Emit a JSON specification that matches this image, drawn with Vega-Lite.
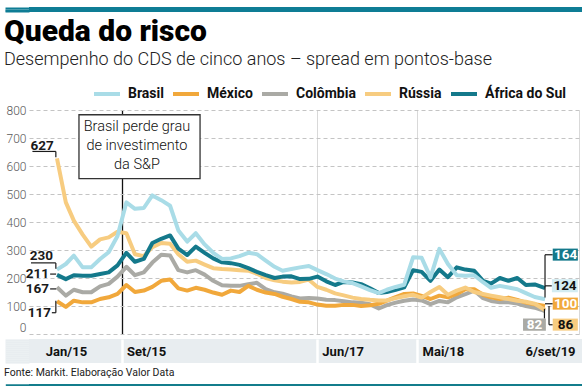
{
"$schema": "https://vega.github.io/schema/vega-lite/v6.json",
"background": "white",
"padding": {"left": 3, "top": 6, "right": 4, "bottom": 2},
"columns": 1,
"spacing": 4,
"resolve": {"legend": {"color": "independent"}},
"config": {"view": {"stroke": null}, "font": "Roboto", "axis": {"labelFont": "Roboto"}, "legend": {"labelFont": "Roboto"}},
"datasets": {"cds": [
{"data":"2015-01-01","pais":"Colômbia","valor":167},{"data":"2015-02-01","pais":"Colômbia","valor":137},{"data":"2015-03-01","pais":"Colômbia","valor":158},{"data":"2015-04-01","pais":"Colômbia","valor":149},{"data":"2015-05-01","pais":"Colômbia","valor":149},{"data":"2015-06-01","pais":"Colômbia","valor":170},{"data":"2015-07-01","pais":"Colômbia","valor":179},{"data":"2015-08-01","pais":"Colômbia","valor":205},{"data":"2015-09-01","pais":"Colômbia","valor":240},{"data":"2015-10-01","pais":"Colômbia","valor":210},{"data":"2015-11-01","pais":"Colômbia","valor":220},{"data":"2015-12-01","pais":"Colômbia","valor":255},
{"data":"2016-01-01","pais":"Colômbia","valor":283},{"data":"2016-02-01","pais":"Colômbia","valor":280},{"data":"2016-03-01","pais":"Colômbia","valor":228},{"data":"2016-04-01","pais":"Colômbia","valor":220},{"data":"2016-05-01","pais":"Colômbia","valor":228},{"data":"2016-06-01","pais":"Colômbia","valor":212},{"data":"2016-07-01","pais":"Colômbia","valor":190},{"data":"2016-08-01","pais":"Colômbia","valor":174},{"data":"2016-09-01","pais":"Colômbia","valor":172},{"data":"2016-10-01","pais":"Colômbia","valor":172},{"data":"2016-11-01","pais":"Colômbia","valor":178},{"data":"2016-12-01","pais":"Colômbia","valor":183},
{"data":"2017-01-01","pais":"Colômbia","valor":160},{"data":"2017-02-01","pais":"Colômbia","valor":149},{"data":"2017-03-01","pais":"Colômbia","valor":144},{"data":"2017-04-01","pais":"Colômbia","valor":134},{"data":"2017-05-01","pais":"Colômbia","valor":127},{"data":"2017-06-01","pais":"Colômbia","valor":129},{"data":"2017-07-01","pais":"Colômbia","valor":127},{"data":"2017-08-01","pais":"Colômbia","valor":122},{"data":"2017-09-01","pais":"Colômbia","valor":121},{"data":"2017-10-01","pais":"Colômbia","valor":117},{"data":"2017-11-01","pais":"Colômbia","valor":113},{"data":"2017-12-01","pais":"Colômbia","valor":112},
{"data":"2018-01-01","pais":"Colômbia","valor":106},{"data":"2018-02-01","pais":"Colômbia","valor":91},{"data":"2018-03-01","pais":"Colômbia","valor":103},{"data":"2018-04-01","pais":"Colômbia","valor":112},{"data":"2018-05-01","pais":"Colômbia","valor":119},{"data":"2018-06-01","pais":"Colômbia","valor":123},{"data":"2018-07-01","pais":"Colômbia","valor":120},{"data":"2018-08-01","pais":"Colômbia","valor":107},{"data":"2018-09-01","pais":"Colômbia","valor":118},{"data":"2018-10-01","pais":"Colômbia","valor":113},{"data":"2018-11-01","pais":"Colômbia","valor":131},{"data":"2018-12-01","pais":"Colômbia","valor":142},
{"data":"2019-01-01","pais":"Colômbia","valor":155},{"data":"2019-02-01","pais":"Colômbia","valor":128},{"data":"2019-03-01","pais":"Colômbia","valor":118},{"data":"2019-04-01","pais":"Colômbia","valor":113},{"data":"2019-05-01","pais":"Colômbia","valor":113},{"data":"2019-06-01","pais":"Colômbia","valor":109},{"data":"2019-07-01","pais":"Colômbia","valor":100},{"data":"2019-08-01","pais":"Colômbia","valor":94},{"data":"2019-09-06","pais":"Colômbia","valor":82},
{"data":"2015-01-01","pais":"México","valor":117},{"data":"2015-02-01","pais":"México","valor":97},{"data":"2015-03-01","pais":"México","valor":119},{"data":"2015-04-01","pais":"México","valor":113},{"data":"2015-05-01","pais":"México","valor":113},{"data":"2015-06-01","pais":"México","valor":125},{"data":"2015-07-01","pais":"México","valor":131},{"data":"2015-08-01","pais":"México","valor":143},{"data":"2015-09-01","pais":"México","valor":175},{"data":"2015-10-01","pais":"México","valor":150},{"data":"2015-11-01","pais":"México","valor":155},{"data":"2015-12-01","pais":"México","valor":168},
{"data":"2016-01-01","pais":"México","valor":190},{"data":"2016-02-01","pais":"México","valor":195},{"data":"2016-03-01","pais":"México","valor":163},{"data":"2016-04-01","pais":"México","valor":155},{"data":"2016-05-01","pais":"México","valor":165},{"data":"2016-06-01","pais":"México","valor":158},{"data":"2016-07-01","pais":"México","valor":148},{"data":"2016-08-01","pais":"México","valor":140},{"data":"2016-09-01","pais":"México","valor":155},{"data":"2016-10-01","pais":"México","valor":150},{"data":"2016-11-01","pais":"México","valor":172},{"data":"2016-12-01","pais":"México","valor":158},
{"data":"2017-01-01","pais":"México","valor":148},{"data":"2017-02-01","pais":"México","valor":143},{"data":"2017-03-01","pais":"México","valor":133},{"data":"2017-04-01","pais":"México","valor":125},{"data":"2017-05-01","pais":"México","valor":115},{"data":"2017-06-01","pais":"México","valor":113},{"data":"2017-07-01","pais":"México","valor":105},{"data":"2017-08-01","pais":"México","valor":101},{"data":"2017-09-01","pais":"México","valor":101},{"data":"2017-10-01","pais":"México","valor":104},{"data":"2017-11-01","pais":"México","valor":104},{"data":"2017-12-01","pais":"México","valor":100},
{"data":"2018-01-01","pais":"México","valor":103},{"data":"2018-02-01","pais":"México","valor":108},{"data":"2018-03-01","pais":"México","valor":119},{"data":"2018-04-01","pais":"México","valor":132},{"data":"2018-05-01","pais":"México","valor":143},{"data":"2018-06-01","pais":"México","valor":145},{"data":"2018-07-01","pais":"México","valor":136},{"data":"2018-08-01","pais":"México","valor":125},{"data":"2018-09-01","pais":"México","valor":137},{"data":"2018-10-01","pais":"México","valor":131},{"data":"2018-11-01","pais":"México","valor":143},{"data":"2018-12-01","pais":"México","valor":160},
{"data":"2019-01-01","pais":"México","valor":160},{"data":"2019-02-01","pais":"México","valor":140},{"data":"2019-03-01","pais":"México","valor":131},{"data":"2019-04-01","pais":"México","valor":125},{"data":"2019-05-01","pais":"México","valor":130},{"data":"2019-06-01","pais":"México","valor":122},{"data":"2019-07-01","pais":"México","valor":112},{"data":"2019-08-01","pais":"México","valor":106},{"data":"2019-09-06","pais":"México","valor":100},
{"data":"2015-01-01","pais":"Rússia","valor":627},{"data":"2015-02-01","pais":"Rússia","valor":470},{"data":"2015-03-01","pais":"Rússia","valor":405},{"data":"2015-04-01","pais":"Rússia","valor":355},{"data":"2015-05-01","pais":"Rússia","valor":312},{"data":"2015-06-01","pais":"Rússia","valor":338},{"data":"2015-07-01","pais":"Rússia","valor":345},{"data":"2015-08-01","pais":"Rússia","valor":365},{"data":"2015-09-01","pais":"Rússia","valor":360},{"data":"2015-10-01","pais":"Rússia","valor":285},{"data":"2015-11-01","pais":"Rússia","valor":278},{"data":"2015-12-01","pais":"Rússia","valor":310},
{"data":"2016-01-01","pais":"Rússia","valor":325},{"data":"2016-02-01","pais":"Rússia","valor":322},{"data":"2016-03-01","pais":"Rússia","valor":285},{"data":"2016-04-01","pais":"Rússia","valor":258},{"data":"2016-05-01","pais":"Rússia","valor":262},{"data":"2016-06-01","pais":"Rússia","valor":248},{"data":"2016-07-01","pais":"Rússia","valor":235},{"data":"2016-08-01","pais":"Rússia","valor":232},{"data":"2016-09-01","pais":"Rússia","valor":230},{"data":"2016-10-01","pais":"Rússia","valor":228},{"data":"2016-11-01","pais":"Rússia","valor":226},{"data":"2016-12-01","pais":"Rússia","valor":215},
{"data":"2017-01-01","pais":"Rússia","valor":200},{"data":"2017-02-01","pais":"Rússia","valor":192},{"data":"2017-03-01","pais":"Rússia","valor":187},{"data":"2017-04-01","pais":"Rússia","valor":184},{"data":"2017-05-01","pais":"Rússia","valor":186},{"data":"2017-06-01","pais":"Rússia","valor":194},{"data":"2017-07-01","pais":"Rússia","valor":168},{"data":"2017-08-01","pais":"Rússia","valor":158},{"data":"2017-09-01","pais":"Rússia","valor":145},{"data":"2017-10-01","pais":"Rússia","valor":138},{"data":"2017-11-01","pais":"Rússia","valor":130},{"data":"2017-12-01","pais":"Rússia","valor":125},
{"data":"2018-01-01","pais":"Rússia","valor":122},{"data":"2018-02-01","pais":"Rússia","valor":120},{"data":"2018-03-01","pais":"Rússia","valor":120},{"data":"2018-04-01","pais":"Rússia","valor":128},{"data":"2018-05-01","pais":"Rússia","valor":135},{"data":"2018-06-01","pais":"Rússia","valor":140},{"data":"2018-07-01","pais":"Rússia","valor":130},{"data":"2018-08-01","pais":"Rússia","valor":150},{"data":"2018-09-01","pais":"Rússia","valor":168},{"data":"2018-10-01","pais":"Rússia","valor":140},{"data":"2018-11-01","pais":"Rússia","valor":155},{"data":"2018-12-01","pais":"Rússia","valor":166},
{"data":"2019-01-01","pais":"Rússia","valor":150},{"data":"2019-02-01","pais":"Rússia","valor":143},{"data":"2019-03-01","pais":"Rússia","valor":137},{"data":"2019-04-01","pais":"Rússia","valor":131},{"data":"2019-05-01","pais":"Rússia","valor":125},{"data":"2019-06-01","pais":"Rússia","valor":119},{"data":"2019-07-01","pais":"Rússia","valor":115},{"data":"2019-08-01","pais":"Rússia","valor":108},{"data":"2019-09-06","pais":"Rússia","valor":86},
{"data":"2015-01-01","pais":"África do Sul","valor":211},{"data":"2015-02-01","pais":"África do Sul","valor":196},{"data":"2015-03-01","pais":"África do Sul","valor":210},{"data":"2015-04-01","pais":"África do Sul","valor":208},{"data":"2015-05-01","pais":"África do Sul","valor":208},{"data":"2015-06-01","pais":"África do Sul","valor":214},{"data":"2015-07-01","pais":"África do Sul","valor":220},{"data":"2015-08-01","pais":"África do Sul","valor":245},{"data":"2015-09-01","pais":"África do Sul","valor":290},{"data":"2015-10-01","pais":"África do Sul","valor":258},{"data":"2015-11-01","pais":"África do Sul","valor":268},{"data":"2015-12-01","pais":"África do Sul","valor":325},
{"data":"2016-01-01","pais":"África do Sul","valor":340},{"data":"2016-02-01","pais":"África do Sul","valor":352},{"data":"2016-03-01","pais":"África do Sul","valor":305},{"data":"2016-04-01","pais":"África do Sul","valor":282},{"data":"2016-05-01","pais":"África do Sul","valor":312},{"data":"2016-06-01","pais":"África do Sul","valor":290},{"data":"2016-07-01","pais":"África do Sul","valor":270},{"data":"2016-08-01","pais":"África do Sul","valor":256},{"data":"2016-09-01","pais":"África do Sul","valor":253},{"data":"2016-10-01","pais":"África do Sul","valor":247},{"data":"2016-11-01","pais":"África do Sul","valor":235},{"data":"2016-12-01","pais":"África do Sul","valor":222},
{"data":"2017-01-01","pais":"África do Sul","valor":210},{"data":"2017-02-01","pais":"África do Sul","valor":200},{"data":"2017-03-01","pais":"África do Sul","valor":205},{"data":"2017-04-01","pais":"África do Sul","valor":206},{"data":"2017-05-01","pais":"África do Sul","valor":196},{"data":"2017-06-01","pais":"África do Sul","valor":197},{"data":"2017-07-01","pais":"África do Sul","valor":205},{"data":"2017-08-01","pais":"África do Sul","valor":188},{"data":"2017-09-01","pais":"África do Sul","valor":175},{"data":"2017-10-01","pais":"África do Sul","valor":186},{"data":"2017-11-01","pais":"África do Sul","valor":184},{"data":"2017-12-01","pais":"África do Sul","valor":178},
{"data":"2018-01-01","pais":"África do Sul","valor":163},{"data":"2018-02-01","pais":"África do Sul","valor":146},{"data":"2018-03-01","pais":"África do Sul","valor":150},{"data":"2018-04-01","pais":"África do Sul","valor":158},{"data":"2018-05-01","pais":"África do Sul","valor":167},{"data":"2018-06-01","pais":"África do Sul","valor":228},{"data":"2018-07-01","pais":"África do Sul","valor":222},{"data":"2018-08-01","pais":"África do Sul","valor":190},{"data":"2018-09-01","pais":"África do Sul","valor":230},{"data":"2018-10-01","pais":"África do Sul","valor":203},{"data":"2018-11-01","pais":"África do Sul","valor":238},{"data":"2018-12-01","pais":"África do Sul","valor":230},
{"data":"2019-01-01","pais":"África do Sul","valor":226},{"data":"2019-02-01","pais":"África do Sul","valor":190},{"data":"2019-03-01","pais":"África do Sul","valor":180},{"data":"2019-04-01","pais":"África do Sul","valor":200},{"data":"2019-05-01","pais":"África do Sul","valor":190},{"data":"2019-06-01","pais":"África do Sul","valor":200},{"data":"2019-07-01","pais":"África do Sul","valor":175},{"data":"2019-08-01","pais":"África do Sul","valor":177},{"data":"2019-09-06","pais":"África do Sul","valor":164},
{"data":"2015-01-01","pais":"Brasil","valor":230},{"data":"2015-02-01","pais":"Brasil","valor":250},{"data":"2015-03-01","pais":"Brasil","valor":280},{"data":"2015-04-01","pais":"Brasil","valor":238},{"data":"2015-05-01","pais":"Brasil","valor":238},{"data":"2015-06-01","pais":"Brasil","valor":268},{"data":"2015-07-01","pais":"Brasil","valor":292},{"data":"2015-08-01","pais":"Brasil","valor":350},{"data":"2015-09-01","pais":"Brasil","valor":470},{"data":"2015-10-01","pais":"Brasil","valor":447},{"data":"2015-11-01","pais":"Brasil","valor":450},{"data":"2015-12-01","pais":"Brasil","valor":495},
{"data":"2016-01-01","pais":"Brasil","valor":478},{"data":"2016-02-01","pais":"Brasil","valor":458},{"data":"2016-03-01","pais":"Brasil","valor":370},{"data":"2016-04-01","pais":"Brasil","valor":330},{"data":"2016-05-01","pais":"Brasil","valor":360},{"data":"2016-06-01","pais":"Brasil","valor":320},{"data":"2016-07-01","pais":"Brasil","valor":290},{"data":"2016-08-01","pais":"Brasil","valor":268},{"data":"2016-09-01","pais":"Brasil","valor":270},{"data":"2016-10-01","pais":"Brasil","valor":278},{"data":"2016-11-01","pais":"Brasil","valor":290},{"data":"2016-12-01","pais":"Brasil","valor":285},
{"data":"2017-01-01","pais":"Brasil","valor":262},{"data":"2017-02-01","pais":"Brasil","valor":240},{"data":"2017-03-01","pais":"Brasil","valor":226},{"data":"2017-04-01","pais":"Brasil","valor":232},{"data":"2017-05-01","pais":"Brasil","valor":238},{"data":"2017-06-01","pais":"Brasil","valor":243},{"data":"2017-07-01","pais":"Brasil","valor":228},{"data":"2017-08-01","pais":"Brasil","valor":214},{"data":"2017-09-01","pais":"Brasil","valor":198},{"data":"2017-10-01","pais":"Brasil","valor":188},{"data":"2017-11-01","pais":"Brasil","valor":182},{"data":"2017-12-01","pais":"Brasil","valor":170},
{"data":"2018-01-01","pais":"Brasil","valor":157},{"data":"2018-02-01","pais":"Brasil","valor":146},{"data":"2018-03-01","pais":"Brasil","valor":158},{"data":"2018-04-01","pais":"Brasil","valor":168},{"data":"2018-05-01","pais":"Brasil","valor":176},{"data":"2018-06-01","pais":"Brasil","valor":274},{"data":"2018-07-01","pais":"Brasil","valor":272},{"data":"2018-08-01","pais":"Brasil","valor":202},{"data":"2018-09-01","pais":"Brasil","valor":304},{"data":"2018-10-01","pais":"Brasil","valor":250},{"data":"2018-11-01","pais":"Brasil","valor":210},{"data":"2018-12-01","pais":"Brasil","valor":208},
{"data":"2019-01-01","pais":"Brasil","valor":210},{"data":"2019-02-01","pais":"Brasil","valor":185},{"data":"2019-03-01","pais":"Brasil","valor":165},{"data":"2019-04-01","pais":"Brasil","valor":172},{"data":"2019-05-01","pais":"Brasil","valor":166},{"data":"2019-06-01","pais":"Brasil","valor":160},{"data":"2019-07-01","pais":"Brasil","valor":146},{"data":"2019-08-01","pais":"Brasil","valor":132},{"data":"2019-09-06","pais":"Brasil","valor":124}
]},
"concat": [
{
 "width": 553, "height": 5,
 "view": {"fill": "#0e7d95", "stroke": null},
 "data": {"values": [{}]},
 "mark": {"type": "point", "opacity": 0},
 "encoding": {"y": {"datum": 1, "type": "quantitative", "scale": {"domain": [0, 2]},
   "axis": {"values": [0.4, 1, 1.6], "labels": false, "domain": false, "grid": false, "title": null, "ticks": true, "tickSize": 24, "tickWidth": 2, "tickColor": "#0e7d95", "minExtent": 25, "maxExtent": 25}}}
},
{
 "width": 550, "height": 224,
 "title": {"text": "Queda do risco", "subtitle": "Desempenho do CDS de cinco anos – spread em pontos-base", "anchor": "start", "frame": "group", "dx": -25, "font": "Roboto", "fontSize": 30, "fontWeight": 900, "color": "#000000", "subtitleFont": "Roboto", "subtitleFontSize": 18, "subtitleFontWeight": 300, "subtitleColor": "#222222", "subtitlePadding": 4, "offset": 10},
 "data": {"name": "cds"},
 "resolve": {"axis": {"x": "independent", "y": "independent"}},
 "layer": [
  {
   "mark": {"type": "line", "strokeWidth": 4, "strokeJoin": "round"},
   "encoding": {
    "x": {"field": "data", "type": "temporal",
      "scale": {"type": "utc", "domain": [{"year": 2014, "month": 9, "date": 25, "utc": true}, {"year": 2020, "month": 1, "date": 3, "utc": true}]},
      "axis": {"title": null, "orient": "bottom", "labels": false, "ticks": false, "domain": false, "minExtent": 0, "maxExtent": 0,
        "values": [{"year": 2015, "month": 8, "date": 15, "utc": true}, {"year": 2017, "month": 6, "date": 29, "utc": true}, {"year": 2018, "month": 6, "date": 15, "utc": true}, {"year": 2020, "month": 1, "date": 3, "utc": true}],
        "grid": true,
        "gridColor": {"condition": {"test": "utcyear(datum.value) == 2015", "value": "#111111"}, "value": "#d9d9d9"},
        "gridWidth": {"condition": {"test": "utcyear(datum.value) == 2015", "value": 1.3}, "value": 1}}},
    "y": {"field": "valor", "type": "quantitative",
      "scale": {"domain": [0, 800]},
      "axis": {"title": null, "orient": "left", "values": [0, 100, 200, 300, 400, 500, 600, 700, 800], "labelOverlap": false, "domain": false, "ticks": false, "labelPadding": 3, "labelFontSize": 12, "labelFontWeight": 300, "labelColor": "#5a5a5a", "minExtent": 25, "maxExtent": 25, "grid": true, "gridDash": [4, 3], "gridColor": "#c4c4c4", "gridWidth": 1,
        "labelBaseline": {"condition": {"test": "datum.value == 0", "value": "bottom"}, "value": "middle"}}},
    "color": {"field": "pais", "type": "nominal",
      "scale": {"domain": ["Brasil", "México", "Colômbia", "Rússia", "África do Sul"], "range": ["#a9dce7", "#f1a83b", "#aaaaa5", "#f7cc80", "#14798b"]},
      "legend": {"title": null, "orient": "none", "legendX": 63, "legendY": -31, "direction": "horizontal", "gridAlign": "none", "symbolType": "stroke", "symbolStrokeWidth": 4, "symbolSize": 676, "labelFontSize": 14, "labelFontWeight": "bold", "labelColor": "#111111", "labelOffset": 6, "columnPadding": 1, "padding": 0}}
   }
  },
  {
   "data": {"values": [{}]},
   "mark": {"type": "rect", "fill": "white", "stroke": "#333333", "strokeWidth": 1.3},
   "encoding": {"x": {"datum": {"year": 2015, "month": 3, "date": 19, "utc": true}, "type": "temporal", "axis": null}, "x2": {"datum": {"year": 2016, "month": 5, "date": 16, "utc": true}}, "y": {"datum": 783, "type": "quantitative", "axis": null}, "y2": {"datum": 555}}
  },
  {
   "data": {"values": [{"nota": ["Brasil perde grau", "de investimento", "da S&P"]}]},
   "mark": {"type": "text", "fontSize": 14.5, "fontWeight": 300, "color": "#111111", "align": "center", "baseline": "middle", "lineHeight": 19},
   "encoding": {"x": {"datum": {"year": 2015, "month": 10, "date": 8, "utc": true}, "type": "temporal", "axis": null}, "y": {"datum": 738, "type": "quantitative", "axis": null}, "text": {"field": "nota", "type": "nominal"}}
  },
  {
   "data": {"values": [{"pais": "Rússia", "valor": 627}]},
   "mark": {"type": "text", "align": "right", "baseline": "middle", "fontSize": 13.5, "fontWeight": "bold", "color": "#1a1a1a"},
   "encoding": {"x": {"datum": {"year": 2014, "month": 12, "date": 21, "utc": true}, "type": "temporal", "axis": null}, "y": {"datum": 671, "type": "quantitative", "axis": null}, "text": {"field": "valor", "type": "quantitative"}}
  },
  {
   "data": {"values": [{"pais": "Brasil", "valor": 230}]},
   "mark": {"type": "text", "align": "right", "baseline": "middle", "fontSize": 13.5, "fontWeight": "bold", "color": "#1a1a1a"},
   "encoding": {"x": {"datum": {"year": 2014, "month": 12, "date": 18, "utc": true}, "type": "temporal", "axis": null}, "y": {"datum": 280, "type": "quantitative", "axis": null}, "text": {"field": "valor", "type": "quantitative"}}
  },
  {
   "data": {"values": [{"pais": "África do Sul", "valor": 211}]},
   "mark": {"type": "text", "align": "right", "baseline": "middle", "fontSize": 13.5, "fontWeight": "bold", "color": "#1a1a1a"},
   "encoding": {"x": {"datum": {"year": 2014, "month": 12, "date": 4, "utc": true}, "type": "temporal", "axis": null}, "y": {"datum": 214, "type": "quantitative", "axis": null}, "text": {"field": "valor", "type": "quantitative"}}
  },
  {
   "data": {"values": [{"pais": "Colômbia", "valor": 167}]},
   "mark": {"type": "text", "align": "right", "baseline": "middle", "fontSize": 13.5, "fontWeight": "bold", "color": "#1a1a1a"},
   "encoding": {"x": {"datum": {"year": 2014, "month": 12, "date": 4, "utc": true}, "type": "temporal", "axis": null}, "y": {"datum": 161, "type": "quantitative", "axis": null}, "text": {"field": "valor", "type": "quantitative"}}
  },
  {
   "data": {"values": [{"pais": "México", "valor": 117}]},
   "mark": {"type": "text", "align": "right", "baseline": "middle", "fontSize": 13.5, "fontWeight": "bold", "color": "#1a1a1a"},
   "encoding": {"x": {"datum": {"year": 2014, "month": 12, "date": 11, "utc": true}, "type": "temporal", "axis": null}, "y": {"datum": 76, "type": "quantitative", "axis": null}, "text": {"field": "valor", "type": "quantitative"}}
  },
  {
   "data": {"values": [{}]},
   "mark": {"type": "rule", "color": "#1a1a1a", "strokeWidth": 1.2},
   "encoding": {"x": {"datum": {"year": 2014, "month": 10, "date": 7, "utc": true}, "type": "temporal", "axis": null}, "x2": {"datum": {"year": 2014, "month": 12, "date": 28, "utc": true}}, "y": {"datum": 652, "type": "quantitative", "axis": null}}
  },
  {
   "data": {"values": [{}]},
   "mark": {"type": "rule", "color": "#1a1a1a", "strokeWidth": 1.2},
   "encoding": {"x": {"datum": {"year": 2014, "month": 12, "date": 28, "utc": true}, "type": "temporal", "axis": null}, "y": {"datum": 652, "type": "quantitative", "axis": null}, "y2": {"datum": 631}}
  },
  {
   "data": {"values": [{}]},
   "mark": {"type": "rule", "color": "#1a1a1a", "strokeWidth": 1.2},
   "encoding": {"x": {"datum": {"year": 2014, "month": 10, "date": 2, "utc": true}, "type": "temporal", "axis": null}, "x2": {"datum": {"year": 2014, "month": 12, "date": 28, "utc": true}}, "y": {"datum": 254, "type": "quantitative", "axis": null}}
  },
  {
   "data": {"values": [{}]},
   "mark": {"type": "rule", "color": "#1a1a1a", "strokeWidth": 1.2},
   "encoding": {"x": {"datum": {"year": 2014, "month": 12, "date": 28, "utc": true}, "type": "temporal", "axis": null}, "y": {"datum": 254, "type": "quantitative", "axis": null}, "y2": {"datum": 233}}
  },
  {
   "data": {"values": [{}]},
   "mark": {"type": "rule", "color": "#1a1a1a", "strokeWidth": 1.2},
   "encoding": {"x": {"datum": {"year": 2014, "month": 12, "date": 8, "utc": true}, "type": "temporal", "axis": null}, "x2": {"datum": {"year": 2014, "month": 12, "date": 29, "utc": true}}, "y": {"datum": 214, "type": "quantitative", "axis": null}}
  },
  {
   "data": {"values": [{}]},
   "mark": {"type": "rule", "color": "#1a1a1a", "strokeWidth": 1.2},
   "encoding": {"x": {"datum": {"year": 2014, "month": 12, "date": 8, "utc": true}, "type": "temporal", "axis": null}, "x2": {"datum": {"year": 2014, "month": 12, "date": 29, "utc": true}}, "y": {"datum": 161, "type": "quantitative", "axis": null}}
  },
  {
   "data": {"values": [{}]},
   "mark": {"type": "rule", "color": "#1a1a1a", "strokeWidth": 1.2},
   "encoding": {"x": {"datum": {"year": 2014, "month": 12, "date": 28, "utc": true}, "type": "temporal", "axis": null}, "y": {"datum": 119, "type": "quantitative", "axis": null}, "y2": {"datum": 76}}
  },
  {
   "data": {"values": [{}]},
   "mark": {"type": "rule", "color": "#1a1a1a", "strokeWidth": 1.2},
   "encoding": {"x": {"datum": {"year": 2014, "month": 12, "date": 14, "utc": true}, "type": "temporal", "axis": null}, "x2": {"datum": {"year": 2014, "month": 12, "date": 28, "utc": true}}, "y": {"datum": 76, "type": "quantitative", "axis": null}}
  },
  {
   "data": {"values": [{}]},
   "mark": {"type": "rule", "color": "#1a1a1a", "strokeWidth": 1.2},
   "encoding": {"x": {"datum": {"year": 2019, "month": 9, "date": 6, "utc": true}, "type": "temporal", "axis": null}, "y": {"datum": 283, "type": "quantitative", "axis": null}, "y2": {"datum": 130}}
  },
  {
   "data": {"values": [{}]},
   "mark": {"type": "rule", "color": "#1a1a1a", "strokeWidth": 1.2},
   "encoding": {"x": {"datum": {"year": 2019, "month": 9, "date": 6, "utc": true}, "type": "temporal", "axis": null}, "x2": {"datum": {"year": 2019, "month": 10, "date": 3, "utc": true}}, "y": {"datum": 283, "type": "quantitative", "axis": null}}
  },
  {
   "data": {"values": [{}]},
   "mark": {"type": "rule", "color": "#1a1a1a", "strokeWidth": 1.2},
   "encoding": {"x": {"datum": {"year": 2019, "month": 9, "date": 6, "utc": true}, "type": "temporal", "axis": null}, "x2": {"datum": {"year": 2019, "month": 9, "date": 30, "utc": true}}, "y": {"datum": 172, "type": "quantitative", "axis": null}}
  },
  {
   "data": {"values": [{}]},
   "mark": {"type": "rule", "color": "#1a1a1a", "strokeWidth": 1.2},
   "encoding": {"x": {"datum": {"year": 2019, "month": 9, "date": 6, "utc": true}, "type": "temporal", "axis": null}, "x2": {"datum": {"year": 2019, "month": 10, "date": 3, "utc": true}}, "y": {"datum": 108, "type": "quantitative", "axis": null}}
  },
  {
   "data": {"values": [{}]},
   "mark": {"type": "rule", "color": "#1a1a1a", "strokeWidth": 1.2},
   "encoding": {"x": {"datum": {"year": 2019, "month": 9, "date": 4, "utc": true}, "type": "temporal", "axis": null}, "y": {"datum": 90, "type": "quantitative", "axis": null}, "y2": {"datum": 55}}
  },
  {
   "data": {"values": [{}]},
   "mark": {"type": "rule", "color": "#1a1a1a", "strokeWidth": 1.2},
   "encoding": {"x": {"datum": {"year": 2019, "month": 9, "date": 20, "utc": true}, "type": "temporal", "axis": null}, "y": {"datum": 100, "type": "quantitative", "axis": null}, "y2": {"datum": 33}}
  },
  {
   "data": {"values": [{}]},
   "mark": {"type": "rule", "color": "#1a1a1a", "strokeWidth": 1.2},
   "encoding": {"x": {"datum": {"year": 2019, "month": 9, "date": 20, "utc": true}, "type": "temporal", "axis": null}, "x2": {"datum": {"year": 2019, "month": 10, "date": 3, "utc": true}}, "y": {"datum": 33, "type": "quantitative", "axis": null}}
  },
  {
   "data": {"values": [{"pais": "África do Sul", "valor": 164}]},
   "mark": {"type": "rect", "fill": "#14798b"},
   "encoding": {"x": {"datum": {"year": 2019, "month": 10, "date": 3, "utc": true}, "type": "temporal", "axis": null}, "x2": {"datum": {"year": 2019, "month": 12, "date": 30, "utc": true}}, "y": {"datum": 305, "type": "quantitative", "axis": null}, "y2": {"datum": 262}}
  },
  {
   "data": {"values": [{"pais": "África do Sul", "valor": 164}]},
   "mark": {"type": "text", "align": "center", "baseline": "middle", "fontSize": 13.5, "fontWeight": "bold", "color": "white"},
   "encoding": {"x": {"datum": {"year": 2019, "month": 11, "date": 17, "utc": true}, "type": "temporal", "axis": null}, "y": {"datum": 283, "type": "quantitative", "axis": null}, "text": {"field": "valor", "type": "quantitative"}}
  },
  {
   "data": {"values": [{"pais": "Brasil", "valor": 124}]},
   "mark": {"type": "rect", "fill": "#d3ecf2"},
   "encoding": {"x": {"datum": {"year": 2019, "month": 9, "date": 30, "utc": true}, "type": "temporal", "axis": null}, "x2": {"datum": {"year": 2019, "month": 12, "date": 30, "utc": true}}, "y": {"datum": 196, "type": "quantitative", "axis": null}, "y2": {"datum": 149}}
  },
  {
   "data": {"values": [{"pais": "Brasil", "valor": 124}]},
   "mark": {"type": "text", "align": "center", "baseline": "middle", "fontSize": 13.5, "fontWeight": "bold", "color": "#111111"},
   "encoding": {"x": {"datum": {"year": 2019, "month": 11, "date": 15, "utc": true}, "type": "temporal", "axis": null}, "y": {"datum": 172, "type": "quantitative", "axis": null}, "text": {"field": "valor", "type": "quantitative"}}
  },
  {
   "data": {"values": [{"pais": "México", "valor": 100}]},
   "mark": {"type": "rect", "fill": "#f1a83b"},
   "encoding": {"x": {"datum": {"year": 2019, "month": 10, "date": 3, "utc": true}, "type": "temporal", "axis": null}, "x2": {"datum": {"year": 2019, "month": 12, "date": 30, "utc": true}}, "y": {"datum": 130, "type": "quantitative", "axis": null}, "y2": {"datum": 87}}
  },
  {
   "data": {"values": [{"pais": "México", "valor": 100}]},
   "mark": {"type": "text", "align": "center", "baseline": "middle", "fontSize": 13.5, "fontWeight": "bold", "color": "white"},
   "encoding": {"x": {"datum": {"year": 2019, "month": 11, "date": 17, "utc": true}, "type": "temporal", "axis": null}, "y": {"datum": 108, "type": "quantitative", "axis": null}, "text": {"field": "valor", "type": "quantitative"}}
  },
  {
   "data": {"values": [{"pais": "Colômbia", "valor": 82}]},
   "mark": {"type": "rect", "fill": "#aaaaa5"},
   "encoding": {"x": {"datum": {"year": 2019, "month": 6, "date": 21, "utc": true}, "type": "temporal", "axis": null}, "x2": {"datum": {"year": 2019, "month": 9, "date": 9, "utc": true}}, "y": {"datum": 55, "type": "quantitative", "axis": null}, "y2": {"datum": 12}}
  },
  {
   "data": {"values": [{"pais": "Colômbia", "valor": 82}]},
   "mark": {"type": "text", "align": "center", "baseline": "middle", "fontSize": 13.5, "fontWeight": "bold", "color": "white"},
   "encoding": {"x": {"datum": {"year": 2019, "month": 7, "date": 31, "utc": true}, "type": "temporal", "axis": null}, "y": {"datum": 33, "type": "quantitative", "axis": null}, "text": {"field": "valor", "type": "quantitative"}}
  },
  {
   "data": {"values": [{"pais": "Rússia", "valor": 86}]},
   "mark": {"type": "rect", "fill": "#f7cc80"},
   "encoding": {"x": {"datum": {"year": 2019, "month": 10, "date": 3, "utc": true}, "type": "temporal", "axis": null}, "x2": {"datum": {"year": 2019, "month": 12, "date": 30, "utc": true}}, "y": {"datum": 55, "type": "quantitative", "axis": null}, "y2": {"datum": 12}}
  },
  {
   "data": {"values": [{"pais": "Rússia", "valor": 86}]},
   "mark": {"type": "text", "align": "center", "baseline": "middle", "fontSize": 13.5, "fontWeight": "bold", "color": "#111111"},
   "encoding": {"x": {"datum": {"year": 2019, "month": 11, "date": 17, "utc": true}, "type": "temporal", "axis": null}, "y": {"datum": 33, "type": "quantitative", "axis": null}, "text": {"field": "valor", "type": "quantitative"}}
  }
 ]
},
{
 "width": 553, "height": 24,
 "view": {"fill": "#e8edf0", "stroke": null},
 "data": {"name": "cds"},
 "mark": {"type": "point", "opacity": 0},
 "encoding": {
  "x": {"field": "data", "type": "temporal",
   "scale": {"type": "utc", "domain": [{"year": 2014, "month": 9, "date": 25, "utc": true}, {"year": 2020, "month": 1, "date": 13, "hours": 14, "utc": true}]},
   "axis": {"title": null, "orient": "bottom", "offset": -12, "domain": false, "ticks": false, "labelFlush": false, "labelOverlap": false, "labelPadding": 0, "labelBaseline": "middle", "labelOffset": 5, "labelFontSize": 13, "labelFontWeight": "bold", "labelColor": "#111111", "minExtent": 0, "maxExtent": 0,
    "values": [{"year": 2015, "month": 1, "date": 15, "utc": true}, {"year": 2015, "month": 8, "date": 15, "utc": true}, {"year": 2017, "month": 6, "date": 29, "utc": true}, {"year": 2018, "month": 6, "date": 15, "utc": true}, {"year": 2019, "month": 9, "date": 6, "utc": true}],
    "labelExpr": "utcyear(datum.value) == 2015 && utcmonth(datum.value) == 0 ? 'Jan/15' : utcyear(datum.value) == 2015 ? 'Set/15' : utcyear(datum.value) == 2017 ? 'Jun/17' : utcyear(datum.value) == 2018 ? 'Mai/18' : '6/set/19'",
    "labelAlign": {"condition": {"test": "(utcyear(datum.value) == 2015 && utcmonth(datum.value) == 0) || utcyear(datum.value) == 2019", "value": "center"}, "value": "left"},
    "grid": true, "gridColor": "white", "gridWidth": 2.5,
    "gridOpacity": {"condition": {"test": "(utcyear(datum.value) == 2015 && utcmonth(datum.value) == 0) || utcyear(datum.value) == 2019", "value": 0}, "value": 1}}},
  "y": {"datum": 1, "type": "quantitative", "scale": {"domain": [0, 2]},
   "axis": {"values": [0.0833, 0.25, 0.4167, 0.5833, 0.75, 0.9167, 1.0833, 1.25, 1.4167, 1.5833, 1.75, 1.9167], "labels": false, "domain": false, "grid": false, "title": null, "ticks": true, "tickSize": 24, "tickWidth": 2.2, "tickColor": "#e8edf0", "minExtent": 25, "maxExtent": 25}}
 }
},
{
 "width": 553, "height": 2.5,
 "view": {"fill": "#137d8c", "stroke": null},
 "title": {"text": "Fonte: Markit. Elaboração Valor Data", "anchor": "start", "frame": "group", "dx": -25, "font": "Roboto", "fontSize": 10.5, "fontWeight": "normal", "color": "#222222", "offset": 4},
 "data": {"values": [{}]},
 "mark": {"type": "point", "opacity": 0},
 "encoding": {"y": {"datum": 1, "type": "quantitative", "scale": {"domain": [0, 2]},
   "axis": {"values": [1], "labels": false, "domain": false, "grid": false, "title": null, "ticks": true, "tickSize": 23.7, "tickWidth": 2.5, "tickColor": "#137d8c", "minExtent": 25, "maxExtent": 25}}}
}
]
}
